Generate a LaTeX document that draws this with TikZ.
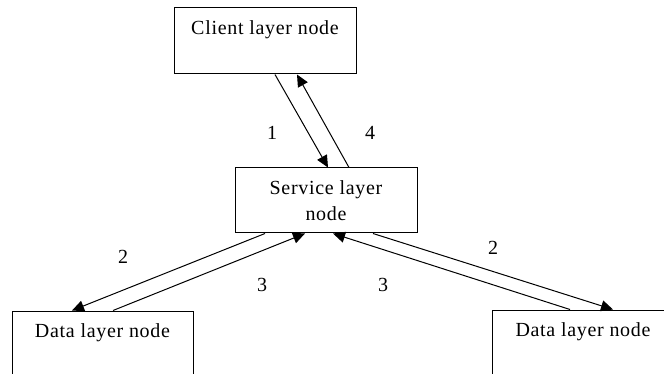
\documentclass[tikz,border=0pt]{standalone}
\usepackage{fontspec}
\setmainfont{Liberation Serif}
\newfontfamily\boxfont[LetterSpace=3.5]{Liberation Serif}
\usepackage{tikz}
\usetikzlibrary{arrows.meta,positioning}
\tikzstyle{layerbox} = [draw=black, line width=1pt, rectangle, inner sep=0,
    minimum width=182pt, minimum height=66pt]
\tikzstyle{boxtitle} = [inner sep=0, font=\boxfont\fontsize{20}{26}\selectfont, align=center]
\tikzstyle{flow} = [line width=1pt, -{Triangle[length=12pt,width=11pt]}]
\tikzstyle{steplabel} = [inner sep=0, font=\fontsize{20}{26}\selectfont]

\begin{document}
\begin{tikzpicture}[x=1pt, y=-1pt]
\useasboundingbox (0,0) rectangle (664,374);
\clip (0,0) rectangle (664,374);
% the four layer boxes
\node [layerbox] (client) at (265,41) {};
\node [layerbox, minimum height=65pt] (service) at (326,200.5) {};
\node [layerbox, minimum width=181pt] (dataleft) at (102.5,344) {};
\node [layerbox] (dataright) at (583,343) {};
\node[boxtitle, below=13pt] (clienttitle) at (client.north) {Client layer node};
\node[boxtitle, below=13pt] (servicetitle) at (service.north) {Service layer\\node};
\node[boxtitle, below=13pt] (lefttitle) at (dataleft.north) {Data layer node};
\node[boxtitle, below=13pt] (righttitle) at (dataright.north) {Data layer node};
% request and reply arrows
\draw[flow] ([xshift=10pt]client.south) -- ([xshift=2pt]service.north);
\draw[flow] ([xshift=23pt]service.north) -- ([xshift=32pt]client.south);
\draw[flow] ([xshift=-61pt]service.south) -- ([xshift=-30.5pt]dataleft.north);
\draw[flow] ([xshift=10.5pt]dataleft.north) -- ([xshift=-21pt]service.south);
\draw[flow] ([xshift=47pt]service.south) -- ([xshift=30pt]dataright.north);
\draw[flow] ([xshift=-13pt]dataright.north) -- ([xshift=7pt]service.south);
% step numbers
\node[steplabel] (stepone) at (272,133) {1};
\node[steplabel] (stepfour) at (370,133) {4};
\node[steplabel] (steptwoleft) at (123,257) {2};
\node[steplabel] (stepthreeleft) at (262,285) {3};
\node[steplabel] (steptworight) at (493,248) {2};
\node[steplabel] (stepthreeright) at (383,285) {3};
\end{tikzpicture}
\end{document}
